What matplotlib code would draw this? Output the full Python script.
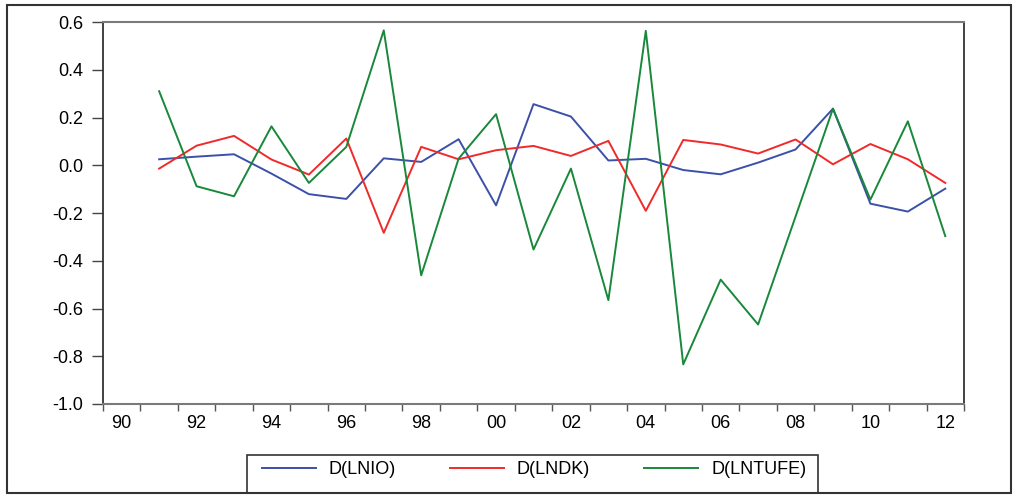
import numpy as np
import matplotlib.pyplot as plt
from matplotlib.patches import Rectangle

plt.rcParams['font.family'] = ['Liberation Sans', 'DejaVu Sans']

years = list(range(1991, 2013))
d_lnio = [0.025, 0.036, 0.046, -0.035, -0.121, -0.141, 0.029, 0.014, 0.109, -0.168,
          0.256, 0.204, 0.020, 0.027, -0.020, -0.038, 0.011, 0.066, 0.237, -0.161,
          -0.194, -0.098]
d_lndk = [-0.014, 0.082, 0.123, 0.024, -0.039, 0.112, -0.283, 0.077, 0.025, 0.063,
          0.081, 0.039, 0.102, -0.191, 0.106, 0.087, 0.049, 0.108, 0.004, 0.089,
          0.025, -0.074]
d_lntufe = [0.310, -0.088, -0.130, 0.163, -0.074, 0.077, 0.565, -0.461, 0.028, 0.214,
            -0.353, -0.014, -0.565, 0.563, -0.834, -0.479, -0.667, -0.215, 0.237, -0.144,
            0.184, -0.297]
y_ticks = [-1.0, -0.8, -0.6, -0.4, -0.2, 0.0, 0.2, 0.4, 0.6]
y_labels = ['-1.0', '-0.8', '-0.6', '-0.4', '-0.2', '0.0', '0.2', '0.4', '0.6']
tick_years = list(range(1990, 2013, 2))

fs = 13

fig = plt.figure(figsize=(10.13, 4.95), dpi=100)
ax = fig.add_axes([103 / 1013, 1 - 404 / 495, 861 / 1013, 382 / 495])

# yearly data sits in the middle of each year slot
x = np.array(years) - 1990 + 0.5
ax.plot(x, d_lnio, color='#3b50a8', lw=1.4, label='D(LNIO)')
ax.plot(x, d_lndk, color='#f02a2a', lw=1.4, label='D(LNDK)')
ax.plot(x, d_lntufe, color='#18883a', lw=1.4, label='D(LNTUFE)')

ax.set_xlim(0, 23)
ax.set_ylim(-1.0, 0.6)
ax.set_yticks(y_ticks)
ax.set_yticklabels(y_labels)
ax.set_xticks(np.arange(0, 24))
ax.set_xticklabels([])
ax.set_xticks([y - 1990 + 0.5 for y in tick_years], minor=True)
ax.set_xticklabels(['%02d' % (y % 100) for y in tick_years], minor=True)

ax.tick_params(axis='y', direction='out', length=8, width=1, color='#444444',
               pad=6, labelsize=fs)
ax.tick_params(axis='x', which='major', direction='out', length=5, width=1,
               color='#555555')
ax.tick_params(axis='x', which='minor', length=0, pad=8, labelsize=fs)

for side in ('left', 'right'):
    ax.spines[side].set_color('#333333')
    ax.spines[side].set_linewidth(1.3)
for side in ('top', 'bottom'):
    ax.spines[side].set_color('#7a7a7a')
    ax.spines[side].set_linewidth(1.5)

# legend strip with its own box below the plot
fig.legend(loc='center', bbox_to_anchor=(534 / 1013, 1 - 470 / 495), ncol=3,
           frameon=False, fontsize=fs, handlelength=3.0, columnspacing=3.0,
           handletextpad=0.7)
fig.add_artist(Rectangle((247 / 1013, 1 - 493 / 495), 571 / 1013, 38 / 495,
                         transform=fig.transFigure, fill=False,
                         edgecolor='#333333', lw=1.2))

# outer frame
fig.add_artist(Rectangle((7 / 1013, 1 - 493 / 495), 1004 / 1013, 488 / 495,
                         transform=fig.transFigure, fill=False,
                         edgecolor='#333333', lw=1.5))

fig.savefig('out.png', dpi=100)
